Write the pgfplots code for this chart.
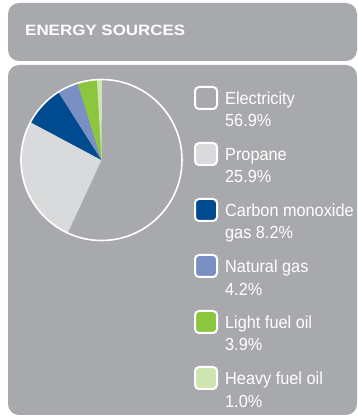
\documentclass[border=0pt]{standalone}
\usepackage{pgfplots}
\pgfplotsset{compat=1.18}
\usepackage{pgfplotstable}
\usepackage{fontspec}
\setmainfont{Liberation Sans}
\newfontfamily\legfont[FakeStretch=0.93]{Liberation Sans}
\newfontfamily\titlefont[FakeStretch=1.13]{Liberation Sans}

\definecolor{bggray}{HTML}{A7A9AC}
\definecolor{slice0}{HTML}{A7A9AC}
\definecolor{slice1}{HTML}{D9DADB}
\definecolor{slice2}{HTML}{004A8F}
\definecolor{slice3}{HTML}{7A8FC3}
\definecolor{slice4}{HTML}{8CC63F}
\definecolor{slice5}{HTML}{CFE6B1}

\pgfplotstableread{
value
56.9
25.9
8.2
4.2
3.9
1.0
}\pietable

\def\pieR{80.5pt}

\begin{document}
\begin{tikzpicture}[x=1pt,y=1pt]
\useasboundingbox (0,0) rectangle (357,416);
\clip (0,0) rectangle (357,416);
% panels
\fill[bggray, rounded corners=11pt] (8,355) rectangle (357,413);
\fill[bggray, rounded corners=11pt] (8,1) rectangle (357,351);
\node[anchor=base west, text=white, inner sep=0pt, font=\titlefont\bfseries\fontsize{15}{18}\selectfont] at (25,380.5) {ENERGY SOURCES};

\begin{axis}[at={(101.5pt,256pt)}, anchor=origin, x=80.5pt, y=80.5pt,
  xmin=-1, xmax=1, ymin=-1, ymax=1, hide axis, clip=false]
\def\cum{0}
\pgfplotsinvokeforeach{0,...,5}{
  \pgfplotstablegetelem{#1}{value}\of\pietable
  \pgfmathsetmacro\angA{90-3.6*\cum}
  \pgfmathsetmacro\cumnew{\cum+\pgfplotsretval}
  \pgfmathsetmacro\angB{90-3.6*\cumnew}
  \global\let\cum\cumnew
  \edef\temp{\noexpand\fill[fill=slice#1] (axis cs:0,0) -- ++(\angA:\pieR) arc[start angle=\angA, end angle=\angB, radius=\pieR] -- cycle;}
  \temp
}
\draw[white, line width=1.6pt] (axis cs:0,0) circle[radius=\pieR];
\end{axis}

% legend
\foreach \i/\na/\nb in {0/Electricity/56.9\%, 1/Propane/25.9\%, 2/Carbon monoxide/gas 8.2\%, 3/Natural gas/4.2\%, 4/Light fuel oil/3.9\%, 5/Heavy fuel oil/1.0\%}{
  \pgfmathsetmacro\yy{416-56*\i}
  \draw[white, line width=2pt, fill=slice\i, rounded corners=4pt] (195,\yy-87) rectangle (217,\yy-109);
  \node[anchor=base west, text=white, inner sep=0pt, font=\legfont\fontsize{17.5}{21}\selectfont] at (225,\yy-105) {\na};
  \node[anchor=base west, text=white, inner sep=0pt, font=\legfont\fontsize{17.5}{21}\selectfont] at (225,\yy-127) {\nb};
}
\end{tikzpicture}
\end{document}
